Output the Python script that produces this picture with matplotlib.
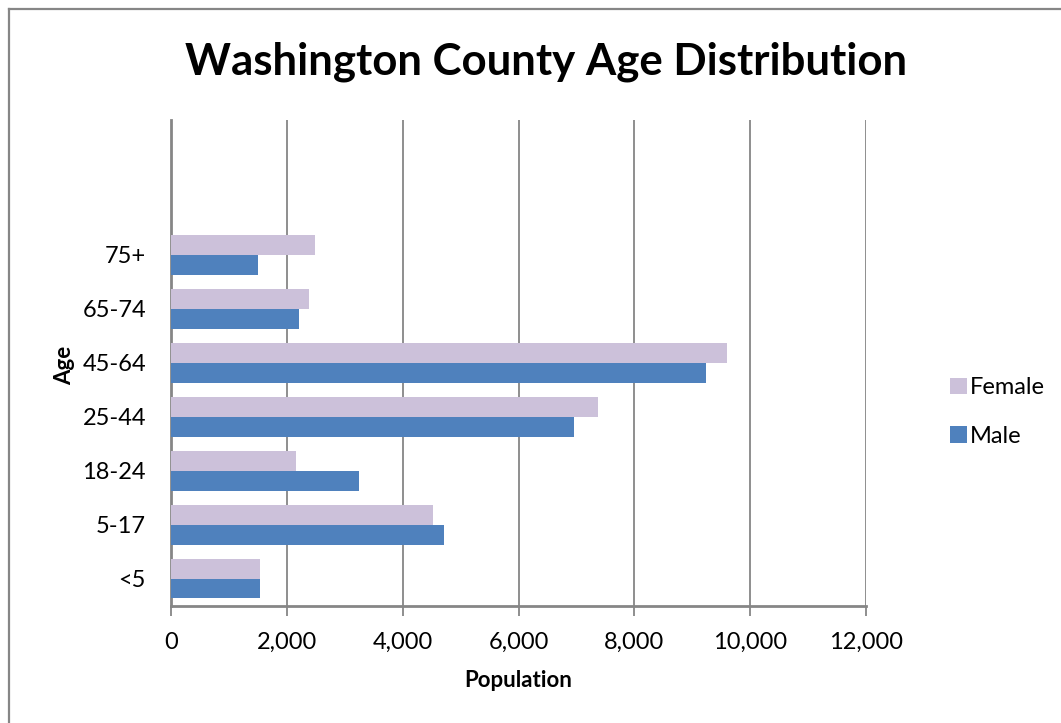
import matplotlib
matplotlib.use("Agg")
import matplotlib.pyplot as plt
from matplotlib.lines import Line2D
import numpy as np

plt.rcParams["font.family"] = ["Lato", "DejaVu Sans"]

# data
age_groups = ["<5", "5-17", "18-24", "25-44", "45-64", "65-74", "75+"]
female = [1540, 4520, 2160, 7380, 9600, 2385, 2490]
male = [1530, 4710, 3250, 6950, 9235, 2215, 1510]
x_ticks = [0, 2000, 4000, 6000, 8000, 10000, 12000]

FEMALE_COLOR = "#CCC1DA"
MALE_COLOR = "#4F81BD"
GRID_COLOR = "#868686"

W, H = 1061, 723
fig = plt.figure(figsize=(W / 100, H / 100), dpi=100)
fig.patch.set_facecolor("white")

# plot area in pixel terms
left, right, top, bottom = 171, 866, 120, 605.5
ax = fig.add_axes([left / W, (H - bottom) / H, (right - left) / W, (bottom - top) / H])

y = np.arange(len(age_groups))
bar_h = 0.37
ax.barh(y + bar_h / 2, female, height=bar_h, color=FEMALE_COLOR, label="Female", zorder=3)
ax.barh(y - bar_h / 2, male, height=bar_h, color=MALE_COLOR, label="Male", zorder=3)

ax.set_xlim(0, 12000)
ax.set_ylim(-0.5, 8.5)
ax.set_xticks(x_ticks)
ax.set_xticklabels([f"{v:,}" for v in x_ticks], fontsize=17)
ax.set_yticks(y)
ax.set_yticklabels(age_groups, fontsize=17)

ax.grid(axis="x", color=GRID_COLOR, linewidth=1.3, zorder=0)
for s in ["top", "right"]:
    ax.spines[s].set_visible(False)
for s in ["left", "bottom"]:
    ax.spines[s].set_color(GRID_COLOR)
    ax.spines[s].set_linewidth(2)
ax.tick_params(axis="x", length=7, width=1.3, color=GRID_COLOR, pad=12)
ax.tick_params(axis="y", length=0, pad=18)

ax.set_xlabel("Population", fontsize=16, fontweight="bold", labelpad=12)
ax.set_ylabel("Age", fontsize=16, fontweight="bold")
ax.yaxis.set_label_coords(-96 / (right - left), (bottom - 365) / (bottom - top))

fig.text(546 / W, (H - 62) / H, "Washington County Age Distribution",
         fontsize=31.5, fontweight="bold", ha="center", va="center")

leg = fig.legend(loc="center left", bbox_to_anchor=(929 / W, (H - 412) / H),
                 frameon=False, fontsize=17, handlelength=0.7, handleheight=0.7,
                 handletextpad=0.15, labelspacing=1.15)

# outer chart border (cropped on right and bottom)
fig.add_artist(Line2D([9 / W, 9 / W], [0, (H - 9) / H], color=GRID_COLOR, linewidth=1.6))
fig.add_artist(Line2D([9 / W, 1], [(H - 9) / H, (H - 9) / H], color=GRID_COLOR, linewidth=1.6))

fig.savefig("out.png", dpi=100)
